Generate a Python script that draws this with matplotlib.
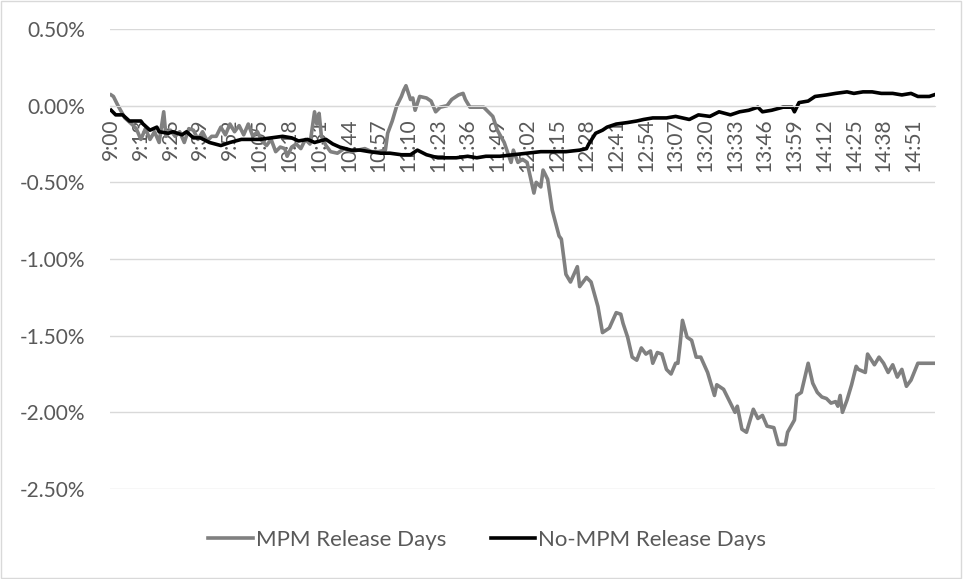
import matplotlib
matplotlib.use("Agg")
import matplotlib.pyplot as plt
from matplotlib.patches import Rectangle
from matplotlib.ticker import FuncFormatter

# minutes after 9:00, cumulative return in %
mpm_minutes = [
    0, 1, 3, 6, 9, 11, 13, 15, 17, 19, 21, 23, 24, 26, 28, 30, 32, 34, 36, 38,
    40, 42, 44, 46, 48, 50, 52, 54, 56, 58, 60, 62, 64, 66, 68, 70, 72, 74, 76, 77,
    79, 81, 83, 85, 87, 89, 90, 91, 92, 94, 96, 99, 102, 105, 108, 111, 114, 117, 120, 121,
    123, 125, 127, 128, 129, 131, 132, 133, 135, 138, 140, 142, 144, 147, 149, 152, 154, 155, 157, 160,
    163, 167, 169, 172, 175, 176, 178, 180, 182, 185, 186, 188, 189, 191, 193, 196, 197, 199, 201, 204,
    205, 208, 210, 213, 215, 218, 221, 223, 224, 226, 228, 230, 232, 234, 236, 237, 239, 241, 243, 245,
    247, 248, 249, 250, 252, 254, 256, 258, 261, 264, 265, 268, 271, 273, 274, 276, 278, 281, 283, 285,
    287, 290, 292, 295, 296, 299, 300, 302, 305, 307, 309, 311, 313, 315, 317, 318, 319, 320, 322, 324,
    326, 327, 330, 331, 334, 336, 338, 340, 342, 344, 346, 348, 350, 353, 360,
]
mpm_values = [
    0.07, 0.06, 0.00, -0.08, -0.12, -0.15, -0.22, -0.15, -0.22, -0.17, -0.24, -0.04, -0.20, -0.16, -0.20, -0.17, -0.24, -0.15, -0.16, -0.22,
    -0.17, -0.23, -0.20, -0.20, -0.14, -0.19, -0.12, -0.17, -0.13, -0.19, -0.12, -0.20, -0.17, -0.23, -0.26, -0.22, -0.30, -0.27, -0.28, -0.33,
    -0.27, -0.25, -0.28, -0.22, -0.25, -0.04, -0.12, -0.05, -0.20, -0.26, -0.30, -0.31, -0.28, -0.30, -0.29, -0.28, -0.30, -0.30, -0.29, -0.18,
    -0.10, 0.00, 0.06, 0.10, 0.13, 0.04, 0.05, -0.03, 0.06, 0.05, 0.03, -0.04, -0.01, 0.00, 0.04, 0.07, 0.08, 0.04, -0.01, -0.01,
    -0.01, -0.07, -0.16, -0.24, -0.37, -0.29, -0.37, -0.35, -0.37, -0.57, -0.50, -0.53, -0.42, -0.48, -0.68, -0.85, -0.87, -1.10, -1.15, -1.05,
    -1.18, -1.12, -1.15, -1.31, -1.48, -1.45, -1.35, -1.36, -1.42, -1.51, -1.64, -1.66, -1.58, -1.62, -1.60, -1.68, -1.61, -1.62, -1.72, -1.75,
    -1.68, -1.68, -1.55, -1.40, -1.51, -1.53, -1.64, -1.64, -1.74, -1.89, -1.82, -1.85, -1.94, -2.00, -1.96, -2.11, -2.13, -1.98, -2.04, -2.02,
    -2.09, -2.10, -2.21, -2.21, -2.13, -2.05, -1.89, -1.87, -1.68, -1.81, -1.87, -1.90, -1.91, -1.94, -1.93, -1.96, -1.89, -2.00, -1.92, -1.82,
    -1.70, -1.72, -1.74, -1.62, -1.69, -1.64, -1.68, -1.74, -1.69, -1.77, -1.72, -1.83, -1.79, -1.68, -1.68,
]

nompm_minutes = [
    0, 2, 5, 8, 13, 14, 17, 20, 21, 25, 27, 31, 33, 36, 39, 43, 48, 52, 57, 61,
    65, 70, 75, 79, 82, 86, 89, 94, 97, 100, 105, 109, 113, 118, 122, 127, 131, 134, 138, 143,
    147, 151, 156, 160, 164, 170, 176, 182, 188, 193, 199, 205, 208, 209, 212, 215, 217, 221, 226, 230,
    233, 237, 243, 247, 253, 257, 262, 266, 271, 275, 279, 283, 285, 289, 294, 298, 299, 301, 305, 308,
    313, 317, 322, 325, 329, 333, 337, 342, 346, 350, 353, 358, 360,
]
nompm_values = [
    -0.03, -0.06, -0.06, -0.10, -0.10, -0.12, -0.16, -0.14, -0.17, -0.18, -0.17, -0.19, -0.17, -0.21, -0.21, -0.24, -0.26, -0.24, -0.22, -0.22,
    -0.22, -0.21, -0.20, -0.21, -0.23, -0.22, -0.24, -0.22, -0.25, -0.27, -0.29, -0.29, -0.30, -0.31, -0.31, -0.32, -0.32, -0.29, -0.32, -0.34,
    -0.34, -0.34, -0.33, -0.34, -0.33, -0.33, -0.32, -0.31, -0.30, -0.30, -0.30, -0.29, -0.28, -0.25, -0.18, -0.16, -0.14, -0.12, -0.11, -0.10,
    -0.09, -0.08, -0.08, -0.07, -0.09, -0.06, -0.07, -0.04, -0.06, -0.04, -0.03, -0.01, -0.04, -0.03, -0.01, -0.01, -0.04, 0.02, 0.03, 0.06,
    0.07, 0.08, 0.09, 0.08, 0.09, 0.09, 0.08, 0.08, 0.07, 0.08, 0.06, 0.06, 0.07,
]

tick_minutes = list(range(0, 352, 13))
tick_labels = [
    "9:00", "9:13", "9:26", "9:39", "9:52", "10:05", "10:18", "10:31", "10:44", "10:57",
    "11:10", "11:23", "11:36", "11:49", "12:02", "12:15", "12:28", "12:41", "12:54", "13:07",
    "13:20", "13:33", "13:46", "13:59", "14:12", "14:25", "14:38", "14:51",
]

TEXT = "#595959"
GRID = "#d9d9d9"

plt.rcParams["font.family"] = ["Lato", "DejaVu Sans"]


def plot_chart():
    fig = plt.figure(figsize=(9.63, 5.79), dpi=100)
    ax = fig.add_axes([110 / 963, 1 - 489 / 579, 825 / 963, 460 / 579])

    ax.plot(mpm_minutes, mpm_values, color="#808080", lw=2.6, label="MPM Release Days")
    ax.plot(nompm_minutes, nompm_values, color="black", lw=2.6, label="No-MPM Release Days")

    ax.set_xlim(-0.5, 360.5)
    ax.set_ylim(-2.5, 0.5)
    ax.set_yticks([0.5, 0.0, -0.5, -1.0, -1.5, -2.0, -2.5])
    ax.yaxis.set_major_formatter(FuncFormatter(lambda v, p: f"{v:.2f}%"))
    ax.grid(axis="y", color=GRID, lw=1)
    ax.set_axisbelow(True)

    for side in ["top", "right", "left"]:
        ax.spines[side].set_visible(False)
    ax.spines["bottom"].set_position(("data", 0))
    ax.spines["bottom"].set_color(GRID)

    ax.set_xticks(tick_minutes)
    ax.set_xticklabels(tick_labels, rotation=90)
    ax.tick_params(axis="x", length=0, pad=9, labelsize=15, colors=TEXT)
    ax.tick_params(axis="y", length=0, pad=18, labelsize=15, colors=TEXT)

    fig.legend(loc="center", bbox_to_anchor=(0.506, 0.067), ncol=2, frameon=False,
               fontsize=16, labelcolor=TEXT, handlelength=2.0, handletextpad=0.15,
               columnspacing=2.0)

    fig.patches.append(Rectangle((0.001, 0.002), 0.997, 0.996, transform=fig.transFigure,
                                 fill=False, edgecolor=GRID, lw=1))
    fig.savefig("out.png", dpi=100)


if __name__ == "__main__":
    plot_chart()
